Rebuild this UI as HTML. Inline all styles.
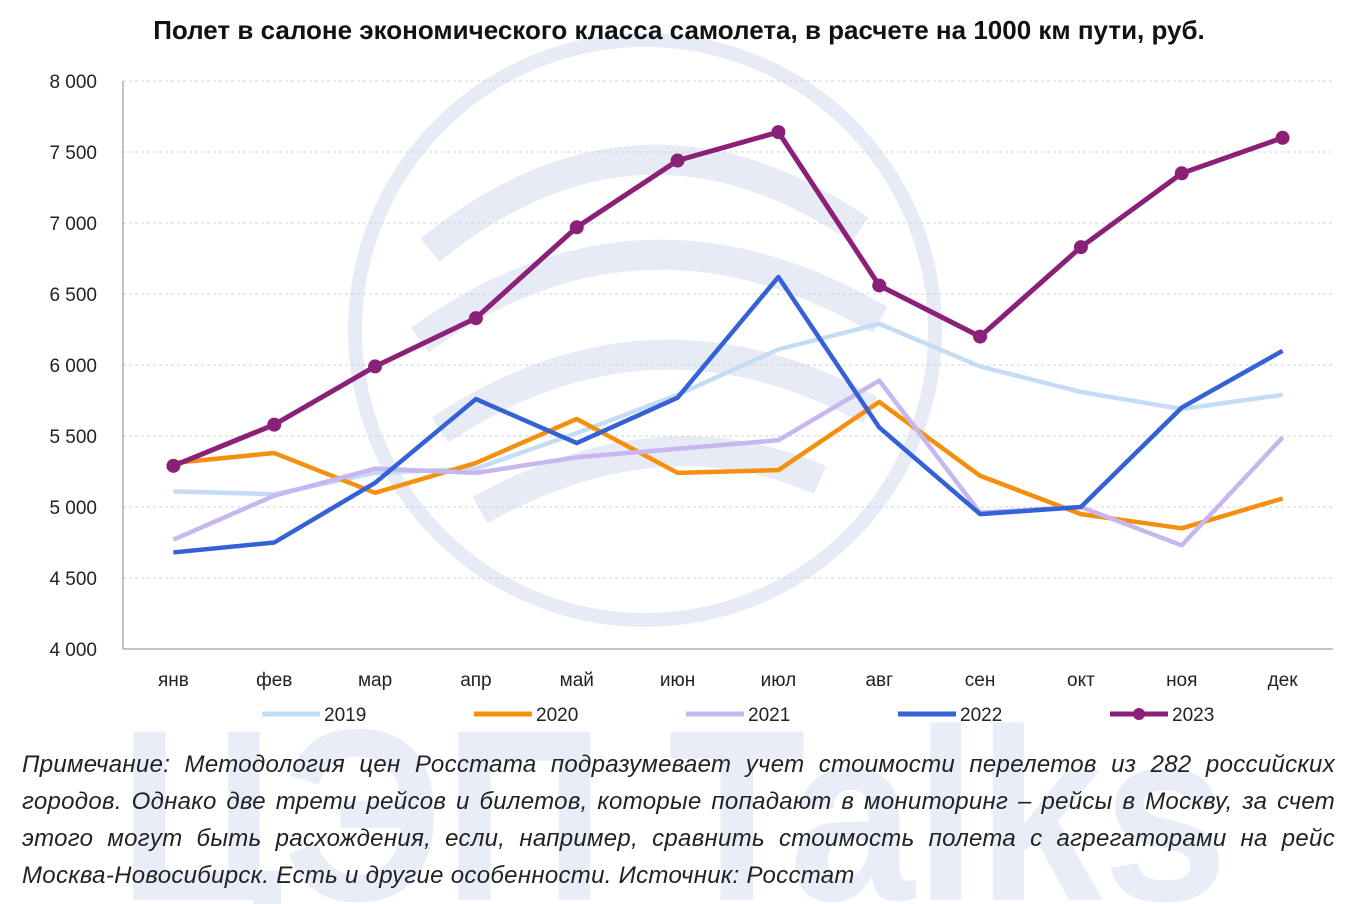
<!DOCTYPE html>
<html><head><meta charset="utf-8">
<style>
body{margin:0;width:1350px;height:904px;background:#fff;overflow:hidden;font-family:"Liberation Sans","DejaVu Sans",sans-serif;position:relative}
#wm{position:absolute;left:0;top:0;overflow:hidden}
#title{position:absolute;left:0;width:1358px;top:15px;text-align:center;font-weight:bold;font-size:26px;color:#111}
#note{position:absolute;left:22px;width:1313px;top:746px;font-style:italic;font-size:24px;line-height:37px;text-align:justify;text-align-last:left;color:#222;letter-spacing:0.3px}
</style></head><body>
<svg id="wm" width="1350" height="904">
<g fill="none" stroke="#e6ebf6" stroke-width="14">
<circle cx="645" cy="330" r="290"/>
<path d="M430 250 Q640 80 860 230" stroke-width="30"/>
<path d="M420 340 Q640 180 880 320" stroke-width="30"/>
<path d="M440 430 Q650 290 870 410" stroke-width="30"/>
<path d="M480 510 Q660 410 820 480" stroke-width="30"/>
</g>
<text x="118" y="900" font-size="245" font-weight="bold" fill="#e8edf7" textLength="1110" lengthAdjust="spacingAndGlyphs" font-family="Liberation Sans,sans-serif">ЦЭП Talks</text>
</svg>
<div id="title">Полет в салоне экономического класса самолета, в расчете на 1000 км пути, руб.</div>
<svg id="chart" width="1350" height="740" style="position:absolute;left:0;top:0"></svg>
<div id="note">Примечание: Методология цен Росстата подразумевает учет стоимости перелетов из 282 российских городов. Однако две трети рейсов и билетов, которые попадают в мониторинг – рейсы в Москву, за счет этого могут быть расхождения, если, например, сравнить стоимость полета с агрегаторами на рейс Москва-Новосибирск. Есть и другие особенности. Источник: Росстат</div>
<script>
const categories=["янв","фев","мар","апр","май","июн","июл","авг","сен","окт","ноя","дек"];
const yTicks=[4000,4500,5000,5500,6000,6500,7000,7500,8000];
const yTickLabels=["4 000","4 500","5 000","5 500","6 000","6 500","7 000","7 500","8 000"];
const seriesNames=["2019","2020","2021","2022","2023"];
const s2019=[5110,5090,5240,5270,5520,5790,6110,6290,5990,5810,5690,5790];
const s2020=[5310,5380,5100,5310,5620,5240,5260,5740,5220,4950,4850,5060];
const s2021=[4770,5080,5270,5240,5350,5410,5470,5890,4960,5000,4730,5490];
const s2022=[4680,4750,5170,5760,5450,5770,6620,5560,4950,5000,5700,6100];
const s2023=[5290,5580,5990,6330,6970,7440,7640,6560,6200,6830,7350,7600];
const colors=["#c5ddf4","#f5900f","#c8b6ee","#3462d6","#8a2078"];
const svg=document.getElementById('chart');
const NS="http://www.w3.org/2000/svg";
const L=123,R=1333,T=81,B=649;
const x=i=>L+(R-L)/12*(i+0.5);
const y=v=>B-(v-4000)/4000*(B-T);
function el(t,a){const e=document.createElementNS(NS,t);for(const k in a)e.setAttribute(k,a[k]);svg.appendChild(e);return e;}
yTicks.forEach((v,i)=>{
 if(i>0){const g=el('line',{x1:L,x2:R,y1:y(v),y2:y(v),stroke:'#d0d0d0','stroke-dasharray':'3,3'});
 
 }
 const t=el('text',{x:97,y:y(v)+7,'text-anchor':'end','font-size':19,fill:'#222'});t.textContent=yTickLabels[i];
 
 
});
const ax=el('line',{x1:L,x2:L,y1:T,y2:B,stroke:'#888'});


const bx=el('line',{x1:L,x2:R,y1:B,y2:B,stroke:'#888'});


categories.forEach((c,i)=>{const t=el('text',{x:x(i),y:686,'text-anchor':'middle','font-size':19,fill:'#222'});t.textContent=c;
 
 });
[s2019,s2020,s2021,s2022,s2023].forEach((s,k)=>{
 const p=el('polyline',{points:s.map((v,i)=>x(i)+','+y(v)).join(' '),fill:'none',stroke:colors[k],'stroke-width':k==4?5:4.5,'stroke-linejoin':'round'});
 
 
 if(k==4)s.forEach((v,i)=>{const c=el('circle',{cx:x(i),cy:y(v),r:7,fill:colors[k]});
  
  });
});
const lx=[262,474,686,898,1110];
seriesNames.forEach((n,k)=>{
 const l=el('line',{x1:lx[k],x2:lx[k]+58,y1:714,y2:714,stroke:colors[k],'stroke-width':5});
 
 
 if(k==4){const c=el('circle',{cx:lx[k]+29,cy:714,r:6,fill:colors[k]});
  
  }
 const t=el('text',{x:lx[k]+62,y:721,'font-size':19,fill:'#222'});t.textContent=n;
 
 
});
</script>
</body></html>
